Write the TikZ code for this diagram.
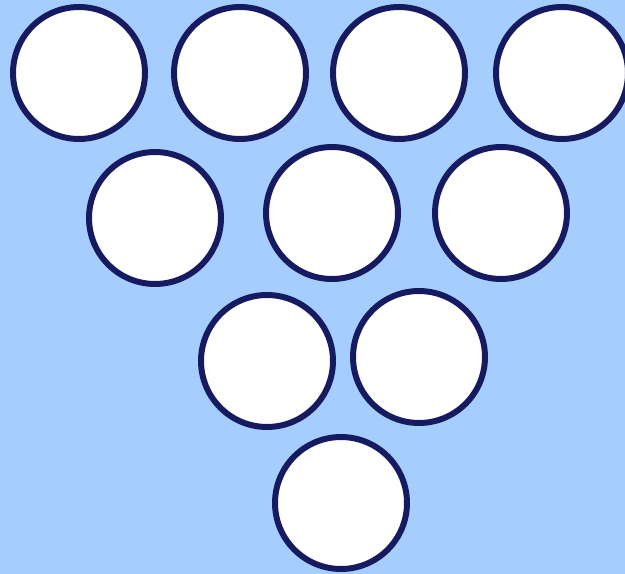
\documentclass[tikz,border=0pt]{standalone}
\usepackage{xcolor}
\usepackage{tikz}
\usetikzlibrary{positioning}

\definecolor{skybg}{HTML}{A5CEFF}
\definecolor{pinline}{HTML}{161A60}

\begin{document}
\begin{tikzpicture}[
    x=0.02cm, y=-0.02cm,
    pin/.style ={circle, fill=white, draw=pinline, line width=3.4pt,
                 minimum size=2.64cm, inner sep=0pt}
  ]
    % background, 625 x 574 px
    \fill[skybg] (0,0) rectangle (625,574);
    \useasboundingbox (0,0) rectangle (625,574);

    % top row
    \node[pin] (p1) at (79,73)  {};
    \node[pin] (p2) at (240,73) {};
    \node[pin] (p3) at (399,73) {};
    \node[pin] (p4) at (562,73) {};

    % second row
    \node[pin] (p5) at (155,218) {};
    \node[pin] (p6) at (332,213) {};
    \node[pin] (p7) at (501,213) {};

    % third row
    \node[pin] (p8) at (267,361) {};
    \node[pin] (p9) at (419,357) {};

    % head pin
    \node[pin] (p10) at (341,503) {};
  \end{tikzpicture}
\end{document}
